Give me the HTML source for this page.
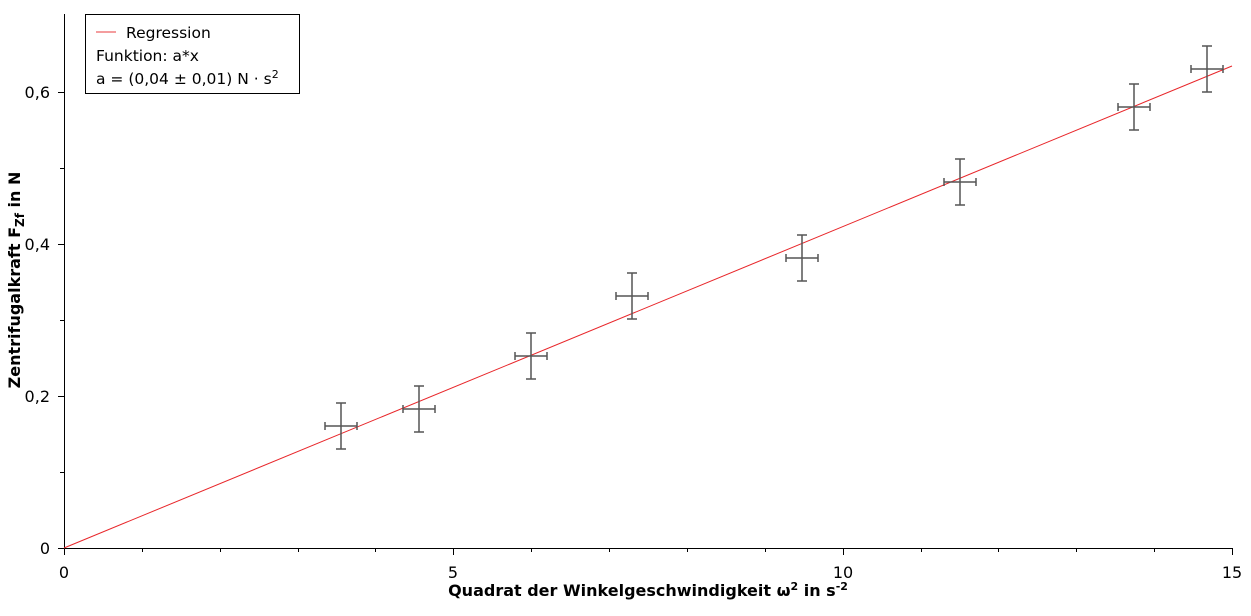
<!DOCTYPE html><html><head><style>body{margin:0;background:#fff}svg text{font-family:"DejaVu Sans","Liberation Sans",sans-serif}</style></head><body>
<svg width="1251" height="611" xmlns="http://www.w3.org/2000/svg">
<g stroke="#000" stroke-width="1" fill="none">
<line x1="64.5" y1="14" x2="64.5" y2="548.5"/>
<line x1="64" y1="548.5" x2="1233" y2="548.5"/>
<line x1="58" y1="92.5" x2="64" y2="92.5"/><line x1="58" y1="244.5" x2="64" y2="244.5"/><line x1="58" y1="396.5" x2="64" y2="396.5"/><line x1="58" y1="548.5" x2="64" y2="548.5"/>
<line x1="60" y1="168.5" x2="64" y2="168.5"/><line x1="60" y1="320.5" x2="64" y2="320.5"/><line x1="60" y1="472.5" x2="64" y2="472.5"/>
<g id="t"></g>
</g>
<g stroke="#000">
<line x1="64.5" y1="548" x2="64.5" y2="555"/><line x1="453.5" y1="548" x2="453.5" y2="555"/><line x1="843.5" y1="548" x2="843.5" y2="555"/><line x1="1232.5" y1="548" x2="1232.5" y2="555"/>
<line x1="142.5" y1="548" x2="142.5" y2="552"/><line x1="220.5" y1="548" x2="220.5" y2="552"/><line x1="298.5" y1="548" x2="298.5" y2="552"/><line x1="375.5" y1="548" x2="375.5" y2="552"/>
<line x1="531.5" y1="548" x2="531.5" y2="552"/><line x1="609.5" y1="548" x2="609.5" y2="552"/><line x1="687.5" y1="548" x2="687.5" y2="552"/><line x1="765.5" y1="548" x2="765.5" y2="552"/>
<line x1="921.5" y1="548" x2="921.5" y2="552"/><line x1="998.5" y1="548" x2="998.5" y2="552"/><line x1="1076.5" y1="548" x2="1076.5" y2="552"/><line x1="1154.5" y1="548" x2="1154.5" y2="552"/>
</g>
<g font-size="16" fill="#000">
<text x="64" y="578" text-anchor="middle">0</text><text x="453" y="578" text-anchor="middle">5</text><text x="843" y="578" text-anchor="middle">10</text><text x="1232" y="578" text-anchor="middle">15</text>
<text x="50" y="554" text-anchor="end">0</text><text x="50" y="402" text-anchor="end">0,2</text><text x="50" y="250" text-anchor="end">0,4</text><text x="50" y="98" text-anchor="end">0,6</text>
<text x="648" y="596" text-anchor="middle" font-weight="bold" font-size="16">Quadrat der Winkelgeschwindigkeit ω<tspan dy="-6" font-size="11">2</tspan><tspan dy="6"> in s</tspan><tspan dy="-6" font-size="11">-2</tspan></text>
<text transform="translate(20,280) rotate(-90)" text-anchor="middle" font-weight="bold" font-size="16">Zentrifugalkraft F<tspan dy="4" font-size="12">Zf</tspan><tspan dy="-4"> in N</tspan></text>
</g>
<line x1="64" y1="548" x2="1232" y2="66" stroke="#e8262a" stroke-width="1"/>
<g stroke="#555" stroke-width="1.5" fill="none">
<path d="M341 403v46M325 426h32M325 422v8M357 422v8M336 403h10M336 449h10"/>
<path d="M419 386v46M403 409h32M403 405v8M435 405v8M414 386h10M414 432h10"/>
<path d="M531 333v46M515 356h32M515 352v8M547 352v8M526 333h10M526 379h10"/>
<path d="M632 273v46M616 296h32M616 292v8M648 292v8M627 273h10M627 319h10"/>
<path d="M802 235v46M786 258h32M786 254v8M818 254v8M797 235h10M797 281h10"/>
<path d="M960 159v46M944 182h32M944 178v8M976 178v8M955 159h10M955 205h10"/>
<path d="M1134 84v46M1118 107h32M1118 103v8M1150 103v8M1129 84h10M1129 130h10"/>
<path d="M1207 46v46M1191 69h32M1191 65v8M1223 65v8M1202 46h10M1202 92h10"/>
</g>
<rect x="85.5" y="14.5" width="214" height="79" fill="#fff" stroke="#000"/>
<line x1="96" y1="32" x2="116" y2="32" stroke="#e8262a" stroke-opacity="0.6" stroke-width="1.5"/>
<g font-size="15.5" fill="#000">
<text x="126" y="38">Regression</text>
<text x="96" y="61">Funktion: a*x</text>
<text x="96" y="84">a = (0,04 ± 0,01) N · s<tspan dy="-6" font-size="11">2</tspan></text>
</g>
</svg></body></html>
